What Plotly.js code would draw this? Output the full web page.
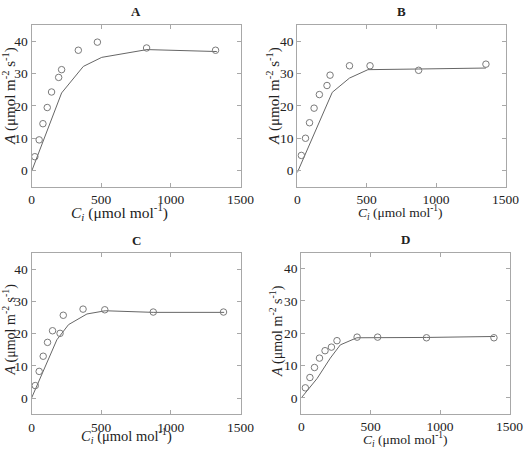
<!DOCTYPE html>
<html>
<head>
<meta charset="utf-8">
<script src="https://cdn.plot.ly/plotly-3.0.1.min.js"></script>
<style>
  html, body { margin: 0; padding: 0; background: #fff; }
  #chart { width: 527px; height: 450px; }
</style>
</head>
<body>
<div id="chart"></div>
<script>
// Measured net assimilation (circles) and fitted model curves (lines), four leaves
const panelLabels = ["A", "B", "C", "D"];

const ciObsA = [24, 55, 82, 113, 144, 195, 216, 336, 473, 826, 1321];
const aObsA  = [4.3, 9.5, 14.5, 19.5, 24.3, 28.8, 31.2, 37.2, 39.7, 37.9, 37.2];
const ciFitA = [0, 216, 372, 504, 829, 1330];
const aFitA  = [-0.3, 24.0, 32.2, 35.0, 37.4, 36.8];

const ciObsB = [29, 59, 88, 121, 159, 214, 236, 376, 524, 874, 1359];
const aObsB  = [4.7, 10.0, 14.8, 19.3, 23.5, 26.3, 29.5, 32.4, 32.4, 31.0, 32.9];
const ciFitB = [0, 252, 376, 509, 874, 1359];
const aFitB  = [-0.6, 24.2, 28.6, 31.2, 31.4, 31.7];

const ciObsC = [27, 55, 84, 115, 151, 205, 228, 370, 526, 874, 1378];
const aObsC  = [3.9, 8.3, 13.0, 17.3, 20.9, 20.1, 25.7, 27.6, 27.4, 26.7, 26.7];
const ciFitC = [0, 182, 266, 398, 530, 874, 1383];
const aFitC  = [0, 18.1, 22.8, 26.1, 27.1, 26.6, 26.6];

const ciObsD = [29, 62, 95, 131, 171, 217, 257, 402, 550, 902, 1388];
const aObsD  = [3.1, 6.3, 9.4, 12.3, 14.6, 15.7, 17.7, 18.8, 18.8, 18.6, 18.6];
const ciFitD = [0, 114, 209, 281, 400, 550, 902, 1395];
const aFitD  = [0, 6.0, 12.3, 16.4, 18.6, 18.6, 18.7, 19.0];

const xTicks = [0, 500, 1000, 1500];
const yTicks = [0, 10, 20, 30, 40];

const xTitle = "<i>C</i><sub><i>i</i></sub> (μmol mol<sup>-1</sup>)";
const yTitle = "<i>A</i> (μmol m<sup>-2</sup> s<sup>-1</sup>)";

const W = 527, H = 450;
const serif = "'Liberation Serif', 'Times New Roman', serif";
const ink = "#222";
const frame = "#a8a8a8";

// pixel boxes of the four panels: [left, right, top, bottom]
const boxes = [
  [31.5, 240.5, 25, 186.8],
  [297.3, 505.5, 25, 186.8],
  [31.5, 240.5, 253, 414.3],
  [301.3, 509.5, 252.5, 414]
];
// axis-title placement per panel: x-title centre (px), y-title centre (px), font sizes
const titlePos = [
  {xt: [119, 211.5], yt: [9, 96], xs: 15.5, ys: 15},
  {xt: [400, 212.5], yt: [273, 96], xs: 13.5, ys: 15},
  {xt: [126, 435.5], yt: [9.5, 330], xs: 14.5, ys: 14},
  {xt: [405, 439.5], yt: [276, 331], xs: 13.5, ys: 14}
];

const obs = [[ciObsA, aObsA], [ciObsB, aObsB], [ciObsC, aObsC], [ciObsD, aObsD]];
const fit = [[ciFitA, aFitA], [ciFitB, aFitB], [ciFitC, aFitC], [ciFitD, aFitD]];

const traces = [];
const layout = {
  width: W, height: H,
  margin: {l: 0, r: 0, t: 0, b: 0},
  paper_bgcolor: "#fff", plot_bgcolor: "#fff",
  showlegend: false,
  font: {family: serif, color: ink, size: 13},
  annotations: []
};

boxes.forEach((b, i) => {
  const n = i === 0 ? "" : String(i + 1);
  const xa = "x" + n, ya = "y" + n;
  traces.push({
    x: fit[i][0], y: fit[i][1], xaxis: xa, yaxis: ya,
    mode: "lines", line: {color: "#666", width: 1}, hoverinfo: "skip"
  });
  traces.push({
    x: obs[i][0], y: obs[i][1], xaxis: xa, yaxis: ya,
    mode: "markers",
    marker: {symbol: "circle-open", size: 6.5, color: "#7a7a7a", line: {width: 1}}
  });
  const common = {
    showline: true, mirror: "ticks", linecolor: frame, linewidth: 1,
    ticks: "inside", ticklen: 4, tickcolor: frame,
    showgrid: false, zeroline: false,
    tickfont: {family: serif, size: 13.5, color: ink}
  };
  layout["xaxis" + n] = Object.assign({}, common, {
    domain: [b[0] / W, b[1] / W], anchor: ya,
    range: [0, 1500], tickvals: xTicks, ticktext: xTicks.map(String)
  });
  layout["yaxis" + n] = Object.assign({}, common, {
    domain: [1 - b[3] / H, 1 - b[2] / H], anchor: xa,
    range: [-5, 45], tickvals: yTicks, ticktext: yTicks.map(String)
  });
  const tp = titlePos[i];
  layout.annotations.push({
    text: "<b>" + panelLabels[i] + "</b>",
    xref: "paper", yref: "paper",
    x: (b[0] + b[1]) / 2 / W, y: 1 - (b[2] - 13) / H,
    xanchor: "center", yanchor: "middle", showarrow: false,
    font: {family: serif, size: 13, color: ink}
  });
  layout.annotations.push({
    text: xTitle, xref: "paper", yref: "paper",
    x: tp.xt[0] / W, y: 1 - tp.xt[1] / H,
    xanchor: "center", yanchor: "middle", showarrow: false,
    font: {family: serif, size: tp.xs, color: ink}
  });
  layout.annotations.push({
    text: yTitle, xref: "paper", yref: "paper", textangle: -90,
    x: tp.yt[0] / W, y: 1 - tp.yt[1] / H,
    xanchor: "center", yanchor: "middle", showarrow: false,
    font: {family: serif, size: tp.ys, color: ink}
  });
});

Plotly.newPlot("chart", traces, layout, {staticPlot: true});
</script>
</body>
</html>
